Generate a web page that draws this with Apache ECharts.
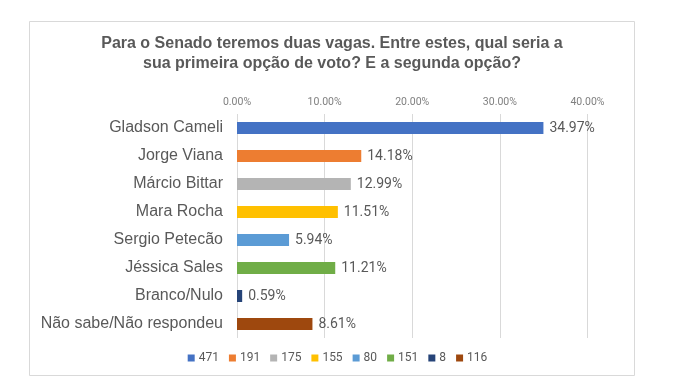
<!DOCTYPE html>
<html><head><meta charset="utf-8">
<script src="https://cdn.jsdelivr.net/npm/echarts@6/dist/echarts.min.js"></script>
<style>html,body{margin:0;padding:0;background:#fff}#c{width:675px;height:392px}</style>
</head><body><div id="c"></div>
<script>
const categories = ['Gladson Cameli','Jorge Viana','Márcio Bittar','Mara Rocha','Sergio Petecão','Jéssica Sales','Branco/Nulo','Não sabe/Não respondeu'];
const percents = [34.97,14.18,12.99,11.51,5.94,11.21,0.59,8.61];
const counts = ['471','191','175','155','80','151','8','116'];
const colors = ['#4472C4','#ED7D31','#B4B4B4','#FFC000','#5B9BD5','#70AD47','#264478','#9E480E'];
const tickValues = [0,10,20,30,40];

const series = categories.map((c,i)=>({
  name: counts[i],
  type:'bar',
  stack:'all',
  barWidth: 12,
  itemStyle:{color:colors[i]},
  data: categories.map((_,j)=> j===i ? percents[i] : null),
  label:{show:true, position:'right', distance:6, color:'#595959', fontFamily:'Roboto', fontSize:14,
    formatter: p => p.value.toFixed(2)+'%'}
}));

const chart = echarts.init(document.getElementById('c'));
chart.setOption({
  animation:false,
  backgroundColor:'#fff',
  title:{
    text:'Para o Senado teremos duas vagas. Entre estes, qual seria a\nsua primeira opção de voto? E a segunda opção?',
    left:327, top:29, textAlign:'center',
    textStyle:{fontFamily:'Liberation Sans', fontSize:16, fontWeight:'bold', color:'#595959', lineHeight:19.5}
  },
  graphic:[{type:'rect', shape:{x:29.5,y:21.5,width:605,height:354}, style:{fill:'none', stroke:'#D9D9D9', lineWidth:1}, z:-1}],
  legend:{
    data: counts, top:347, left:'center',
    itemWidth:7, itemHeight:7, itemGap:10, icon:'rect',
    textStyle:{fontFamily:'Roboto', fontSize:12, color:'#595959', padding:[0,0,0,-1]}
  },
  grid:{left:237, right:87.5, top:114, bottom:54},
  xAxis:{
    type:'value', position:'top', min:0, max:40, interval:10,
    axisLine:{show:false}, axisTick:{show:false},
    splitLine:{lineStyle:{color:'#D9D9D9'}},
    axisLabel:{formatter: v => v.toFixed(2)+'%', fontFamily:'Roboto', fontSize:10.5, color:'#7F7F7F', margin:6}
  },
  yAxis:{
    type:'category', data:categories, inverse:true,
    axisLine:{show:false}, axisTick:{show:false},
    axisLabel:{fontFamily:'Liberation Sans', fontSize:16, color:'#595959', margin:14}
  },
  series: series
});
</script></body></html>
